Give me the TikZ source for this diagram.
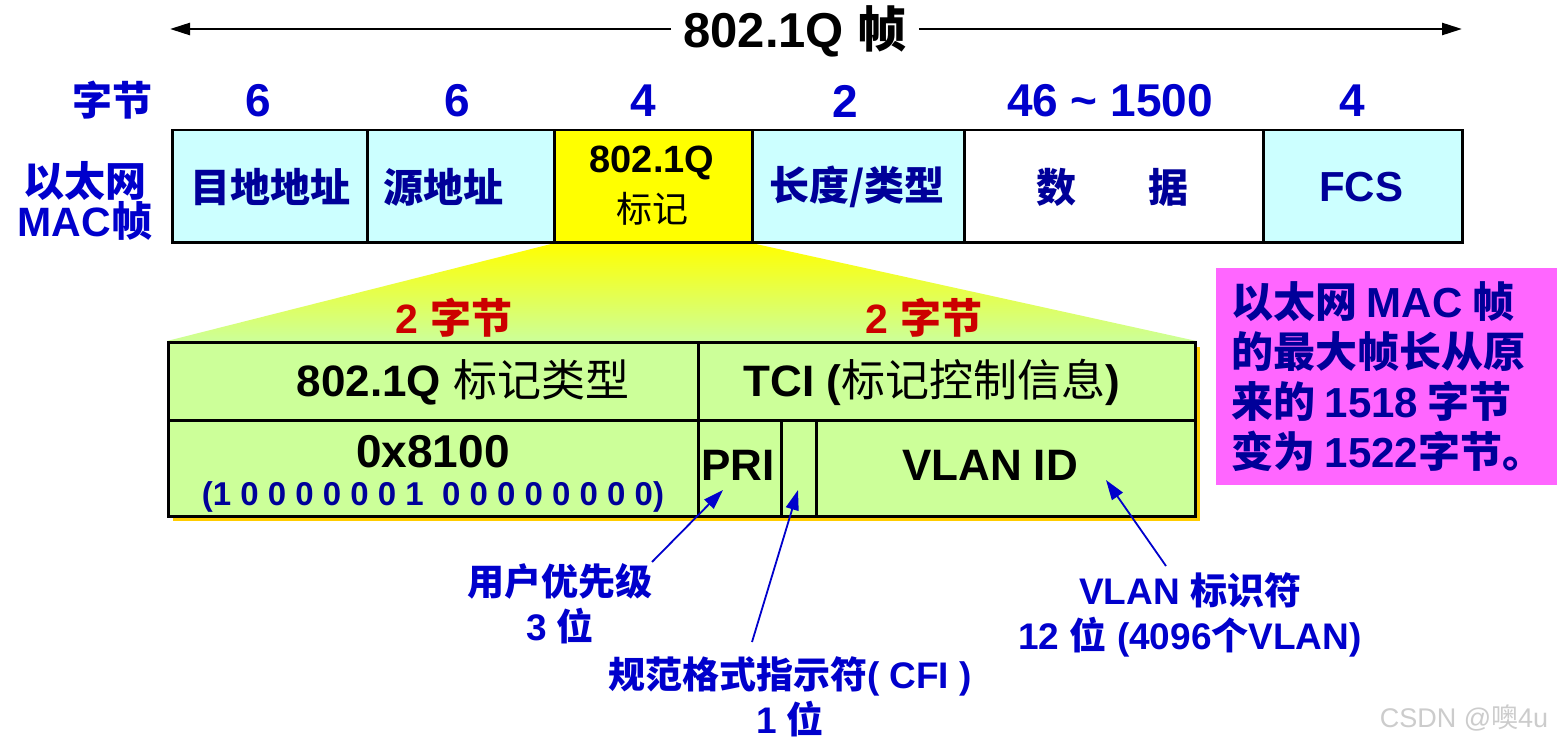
\documentclass[tikz,border=0pt]{standalone}
\usepackage{fontspec}
\setmainfont{Liberation Sans}
\newfontfamily\zh{Noto Sans CJK SC}
\usetikzlibrary{arrows.meta,backgrounds}
\definecolor{txtblue}{HTML}{0000CC}
\definecolor{navy}{HTML}{000099}
\definecolor{cellcyan}{HTML}{CCFFFF}
\definecolor{tagyellow}{HTML}{FFFF00}
\definecolor{boxgreen}{HTML}{CCFF99}
\definecolor{shadowgold}{HTML}{FFCC00}
\definecolor{pinkbox}{HTML}{FF66FF}
\definecolor{redtxt}{HTML}{CC0000}
\newcommand{\fs}[2]{\fontsize{#1}{#2}\selectfont}
\begin{document}
\begin{tikzpicture}[x=1pt,y=-1pt,
  cell/.style={draw=black, line width=2.5pt, anchor=north west, inner sep=0pt, minimum height=112pt},
  celltxt/.style={font=\fs{40}{40}\bfseries\zh, text=navy, inner sep=0pt},
  sizetxt/.style={font=\fs{46}{46}\bfseries, text=txtblue, inner sep=0pt},
  bcell/.style={draw=black, line width=2.5pt, fill=boxgreen, anchor=north west, inner sep=0pt},
  btxt/.style={font=\fs{44}{44}\bfseries, text=black, inner sep=0pt},
  redtag/.style={font=\fs{41}{41}\bfseries, text=redtxt, inner sep=0pt},
  lbl/.style={font=\fs{37}{45}\bfseries, text=txtblue, align=center, inner sep=0pt},
  ptr/.style={draw=txtblue, line width=1.8pt, -{Triangle[length=20pt,width=13pt]}},
  toparrow/.style={draw=black, line width=2.5pt, -{Triangle[length=20pt,width=12pt]}},
]
\useasboundingbox (0,0) rectangle (1557,746);
\begin{scope}[on background layer]
  \fill[white] (0,0) rectangle (1557,746);
\end{scope}

% title and span arrows
\node[font=\fs{49}{49}\bfseries, inner xsep=12pt, inner ysep=0pt] (title) at (795,31) {802.1Q {\zh 帧}};
\coordinate (leftEnd) at (170,29);
\coordinate (rightEnd) at (1462,29);
\draw[toparrow] (title.west |- leftEnd) -- (leftEnd);
\draw[toparrow] (title.east |- rightEnd) -- (rightEnd);

% byte counts
\node[sizetxt, font=\fs{40}{40}\bfseries\zh] (bytesL) at (112,100) {字节};
\node[sizetxt] (n1) at (258,101) {6};
\node[sizetxt] (n2) at (457,101) {6};
\node[sizetxt] (n3) at (643,101) {4};
\node[sizetxt] (n4) at (845,101) {2};
\node[sizetxt] (n5) at (1110,101) {46 \textasciitilde\ 1500};
\node[sizetxt] (n6) at (1352,101) {4};

% MAC frame label
\node[font=\fs{41}{38}\bfseries, text=txtblue, align=center, inner sep=0pt] (macL) at (85,201) {{\zh 以太网}\\MAC{\zh 帧}};

% MAC frame cells
\node[cell, fill=cellcyan, minimum width=195pt] (dst) at (171,129) {};
\node[cell, fill=cellcyan, minimum width=187pt] (src) at (366,129) {};
\node[cell, fill=tagyellow, minimum width=198pt] (tag) at (553,129) {};
\node[cell, fill=cellcyan, minimum width=212pt] (len) at (751,129) {};
\node[cell, fill=white, minimum width=299pt] (data) at (963,129) {};
\node[cell, fill=cellcyan, minimum width=199pt] (fcs) at (1262,129) {};

\node[celltxt] (dstT) at (270,187) {目地地址};
\node[celltxt] (srcT) at (443,187) {源地址};
\node[font=\fs{38}{38}\bfseries, inner sep=0pt] (tagT1) at (652,163) {802.1Q};
\node[font=\fs{36}{36}\zh, inner sep=0pt] (tagT2) at (652,209) {标记};
\node[celltxt] (lenT) at (857,187) {长度/类型};
\node[celltxt] (dataT) at (1112,187) {数\hspace{72pt}据};
\node[font=\fs{42}{42}\bfseries, text=navy, inner sep=0pt] (fcsT) at (1361,187) {FCS};

% bottom box
\fill[shadowgold] (173,347) rectangle (1200,521);
\node[bcell, minimum width=530pt, minimum height=78pt] (typehdr) at (167,341) {};
\node[bcell, minimum width=497pt, minimum height=78pt] (tcihdr) at (697,341) {};
\node[bcell, minimum width=530pt, minimum height=96pt] (typeval) at (167,419) {};
\node[bcell, minimum width=83pt, minimum height=96pt] (pri) at (697,419) {};
\node[bcell, minimum width=35pt, minimum height=96pt] (cfi) at (780,419) {};
\node[bcell, minimum width=379pt, minimum height=96pt] (vid) at (815,419) {};

\begin{scope}[on background layer]
  \shade[top color=tagyellow, bottom color=boxgreen] (tag.south west) -- (tag.south east) -- (tcihdr.north east) -- (typehdr.north west) -- cycle;
\end{scope}

\node[redtag] (b1) at (454,318) {2 {\zh 字节}};
\node[redtag] (b2) at (924,318) {2 {\zh 字节}};

\node[btxt] (typehdrT) at (463,382) {802.1Q {\zh\mdseries 标记类型}};
\node[btxt] (tciT) at (932,382) {TCI ({\zh\mdseries 标记控制信息})};
\node[btxt, font=\fs{46}{46}\bfseries] (hexT) at (433,452) {0x8100};
\node[inner sep=0pt, text=navy, font=\fs{33}{33}\bfseries] (binT) at (433,497) {(1 0 0 0 0 0 0 1\ \ 0 0 0 0 0 0 0 0)};
\node[btxt] (priT) at (738,465) {PRI};
\node[btxt] (vidT) at (990,465) {VLAN ID};

% note box
\node[fill=pinkbox, anchor=north west, minimum width=341pt, minimum height=217pt, inner sep=0pt] (note) at (1216,268) {};
\node[anchor=west, align=left, font=\fs{42}{50}\bfseries\zh, text=navy, inner sep=0pt] (noteT) at (1231,377) {以太网 {\rmfamily MAC} 帧\\的最大帧长从原\\来的 {\rmfamily 1518} 字节\\变为 {\rmfamily 1522}字节。};

% callouts
\node[lbl] (priL) at (560,604) {{\zh 用户优先级}\\3 {\zh 位}};
\node[lbl] (cfiL) at (790,697) {{\zh 规范格式指示符}( CFI )\\1 {\zh 位}};
\node[lbl] (vidL) at (1190,615) {VLAN {\zh 标识符}\\12 {\zh 位} (4096{\zh 个}VLAN)};

\coordinate (priTail) at (652,562);
\coordinate (priTip) at (723,490);
\coordinate (cfiTail) at (752,642);
\coordinate (cfiTip) at (798,490);
\coordinate (vidTail) at (1166,566);
\coordinate (vidTip) at (1106,480);
\draw[ptr] (priTail) -- (priTip);
\draw[ptr] (cfiTail) -- (cfiTip);
\draw[ptr] (vidTail) -- (vidTip);

% watermark
\node[text=gray!40, font=\fs{27}{27}, inner sep=0pt] (wm) at (1464,718) {CSDN @{\zh 噢}4u};
\end{tikzpicture}
\end{document}
